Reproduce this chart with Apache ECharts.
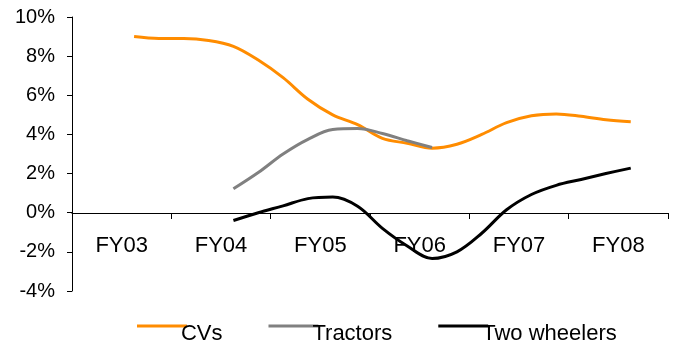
<!DOCTYPE html>
<html>
<head>
<meta charset="utf-8">
<title>Growth</title>
<script src="https://cdn.jsdelivr.net/npm/echarts@6/dist/echarts.min.js"></script>
<style>
html, body { margin: 0; padding: 0; background: #fff; }
#chart { width: 677px; height: 343px; }
</style>
</head>
<body>
<div id="chart"></div>
<script>
// fiscal years shown on the axis, quarterly points behind them
var years = ['FY03', 'FY04', 'FY05', 'FY06', 'FY07', 'FY08'];
var quarters = [];
for (var y = 0; y < years.length; y++) {
    for (var q = 1; q <= 4; q++) quarters.push(years[y] + 'Q' + q);
}
var cvs = [null, null, 9.0, 8.9, 8.9, 8.8, 8.5, 7.8, 6.9, 5.8, 5.0, 4.5, 3.8, 3.55, 3.3, 3.5, 4.0, 4.6, 4.95, 5.05, 4.93, 4.75, 4.65, null];
var tractors = [null, null, null, null, null, null, 1.22, 2.05, 3.0, 3.75, 4.25, 4.3, 4.05, 3.68, 3.33, null, null, null, null, null, null, null, null, null];
var twoWheelers = [null, null, null, null, null, null, -0.4, 0.0, 0.35, 0.72, 0.8, 0.33, -0.8, -1.7, -2.34, -2.0, -1.05, 0.15, 0.93, 1.4, 1.7, 2.0, 2.28, null];

var font = 'Liberation Sans, Arial, sans-serif';
// bar at the top of the icon box so the sample line sits above the text centre
var legendIcon = 'path://M0,0H50V3H0Z M0,19H0.05V19.05H0Z';

var myChart = echarts.init(document.getElementById('chart'));
var option = {
    animation: false,
    grid: { left: 72, right: 9, top: 17, bottom: 52, containLabel: false },
    legend: {
        top: 318,
        left: 132,
        itemWidth: 50,
        itemHeight: 19,
        itemGap: 46,
        textStyle: { fontFamily: font, fontSize: 22, color: '#000', padding: [0, 0, 0, -11] },
        data: [
            { name: 'CVs', icon: legendIcon },
            { name: 'Tractors', icon: legendIcon },
            { name: 'Two wheelers', icon: legendIcon }
        ]
    },
    xAxis: [{
        type: 'category',
        data: years,
        boundaryGap: true,
        offset: -78,
        axisLine: { onZero: false, lineStyle: { color: '#000', width: 1 } },
        axisTick: { show: true, length: 6, lineStyle: { color: '#000' } },
        axisLabel: { fontFamily: font, fontSize: 22, color: '#000', margin: 22 },
        splitLine: { show: false }
    }, {
        type: 'category',
        data: quarters,
        boundaryGap: true,
        show: false
    }],
    yAxis: {
        type: 'value',
        min: -4,
        max: 10,
        interval: 2,
        axisLine: { show: true, lineStyle: { color: '#000', width: 1 } },
        axisTick: { show: true, length: 5, lineStyle: { color: '#000' } },
        axisLabel: { fontFamily: font, fontSize: 20, color: '#000', margin: 17, formatter: '{value}%' },
        splitLine: { show: false }
    },
    series: [{
        name: 'CVs',
        type: 'line',
        xAxisIndex: 1,
        data: cvs,
        smooth: 0.35,
        symbol: 'none',
        color: '#FF8C00',
        lineStyle: { width: 3, color: '#FF8C00' }
    }, {
        name: 'Tractors',
        type: 'line',
        xAxisIndex: 1,
        data: tractors,
        smooth: 0.35,
        symbol: 'none',
        color: '#808080',
        lineStyle: { width: 3, color: '#808080' }
    }, {
        name: 'Two wheelers',
        type: 'line',
        xAxisIndex: 1,
        data: twoWheelers,
        smooth: 0.35,
        symbol: 'none',
        color: '#000',
        lineStyle: { width: 3, color: '#000' }
    }]
};
myChart.setOption(option);
</script>
</body>
</html>
